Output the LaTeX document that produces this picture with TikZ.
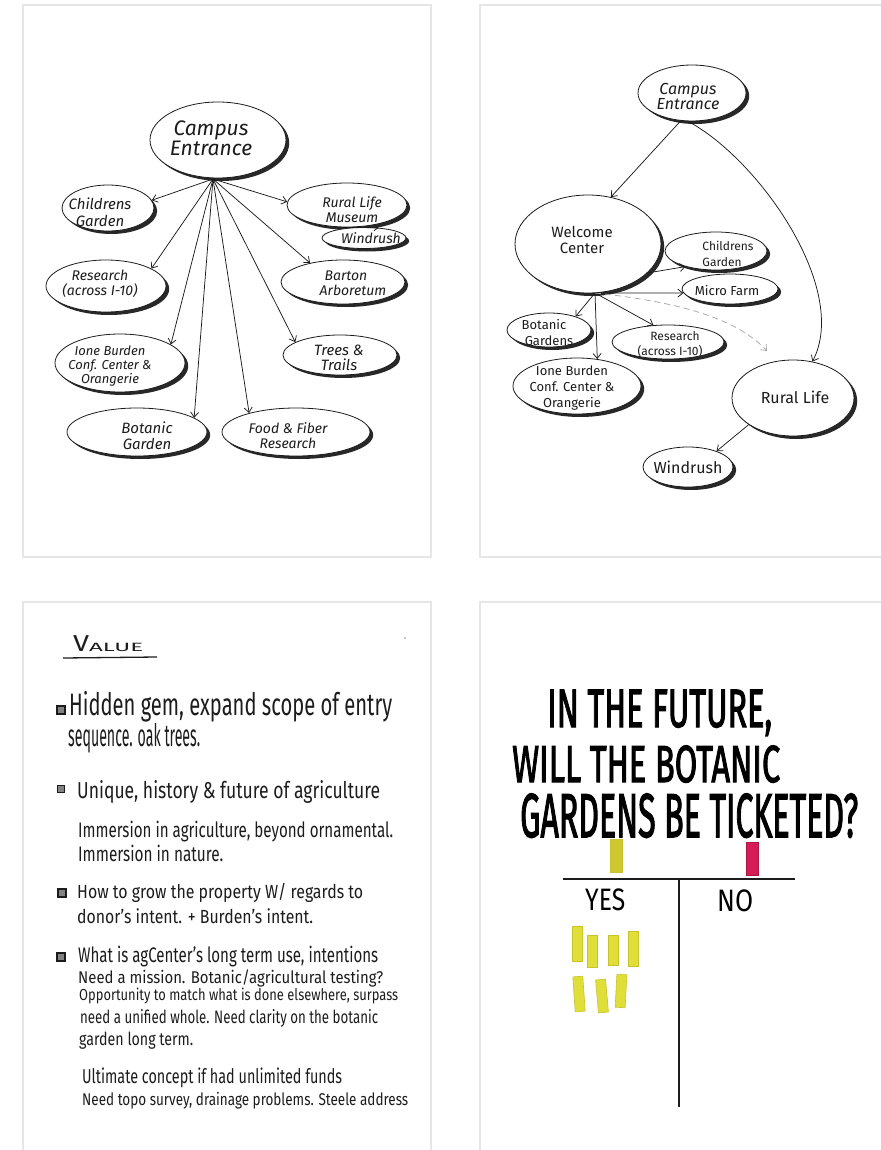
\documentclass[tikz,border=0pt]{standalone}
\usepackage{fontspec}
\setmainfont{Fira Sans}
\newfontfamily\markerfont[FakeBold=2.5]{Fira Sans}
\usepackage{graphicx}
\usetikzlibrary{shapes.geometric,arrows.meta,shadows}
\newcommand\setfs[2]{\fontsize{#1}{#2}\selectfont}
\newcommand\fitw[2]{\resizebox{#1}{\height}{#2}}
\definecolor{frame}{RGB}{230,230,230}
\definecolor{ink}{RGB}{28,28,28}
\definecolor{postit}{RGB}{224,222,56}
\definecolor{postitedge}{RGB}{200,194,44}
\definecolor{postitold}{RGB}{206,200,48}
\definecolor{postitpink}{RGB}{214,28,86}
\tikzset{
  panel/.style={draw=frame, line width=2pt},
  bub/.style={ellipse, draw=ink, line width=0.8pt, fill=white, inner sep=0pt,
    drop shadow={shadow xshift=3.2pt, shadow yshift=-3pt, fill=ink, opacity=0.95}},
  arr/.style={draw=ink, line width=0.75pt, -{Straight Barb[length=5pt,width=8pt]}},
  lab/.style={align=center, inner sep=0pt, text=ink},
  note/.style={anchor=base west, inner sep=0pt, text=ink},
  chk/.style={draw=ink, fill=ink!55, line width=1.3pt, inner sep=0pt},
  poster/.style={anchor=base west, inner sep=0pt, text=black},
  sticky/.style={fill=postit, draw=postitedge, line width=0.6pt, inner sep=0pt, minimum width=10pt},
}
\begin{document}
\begin{tikzpicture}[x=1pt, y=-1pt]
\useasboundingbox (0,0) rectangle (880,1150);

% ---------- four sheets ----------
\draw[panel] (23,5) rectangle (431,557);
\draw[panel] (480,5) rectangle (896,557);
\draw[panel] (23,602) rectangle (431,1162);
\draw[panel] (480,602) rectangle (896,1162);

% ---------- sheet 1: radial site map ----------
\node[bub, minimum width=136pt, minimum height=76pt] (ce) at (218,140) {};
\node[bub, minimum width=92pt, minimum height=46pt] (cg) at (108,208) {};
\node[bub, minimum width=120pt, minimum height=44pt] (rlm) at (347,205) {};
\node[bub, minimum width=84pt, minimum height=21pt] (wr) at (364,238) {};
\node[bub, minimum width=120pt, minimum height=52pt] (rs) at (106,286) {};
\node[bub, minimum width=124pt, minimum height=44pt] (ba) at (343,282) {};
\node[bub, minimum width=130pt, minimum height=58pt] (ib) at (120,363) {};
\node[bub, minimum width=114pt, minimum height=40pt] (tt) at (340,355) {};
\node[bub, minimum width=140pt, minimum height=48pt] (bg) at (137,432) {};
\node[bub, minimum width=148pt, minimum height=48pt] (ff) at (296,432) {};

\node[lab, font={\setfs{21}{20}\itshape}] (ce-t) at (211,138) {Campus\\Entrance};
\node[lab, font={\setfs{15}{17}\itshape}] (cg-t) at (100,212) {Childrens\\Garden};
\node[lab, font={\setfs{14}{15}\itshape}] (rlm-t) at (352,210) {Rural Life\\Museum};
\node[lab, font={\setfs{14}{14}\itshape}] (wr-t) at (371,238) {Windrush};
\node[lab, font={\setfs{14}{15}\itshape}] (rs-t) at (100,284) {Research\\(across I-10)};
\node[lab, font={\setfs{14}{15}\itshape}] (ba-t) at (346,283) {Barton\\\hspace*{14pt}Arboretum};
\node[lab, font={\setfs{13}{14}\itshape}] (ib-t) at (110,366) {Ione Burden\\Conf. Center \&\\Orangerie};
\node[lab, font={\setfs{15}{15}\itshape}] (tt-t) at (339,358) {Trees \&\\Trails};
\node[lab, font={\setfs{15}{16}\itshape}] (bg-t) at (147,436) {Botanic\\Garden};
\node[lab, font={\setfs{14}{15}\itshape}] (ff-t) at (288,436) {Food \& Fiber\\Research};

\coordinate (hub) at (213,179);
\draw[arr] (hub) -- (cg.10);
\draw[arr] (hub) -- (rlm.177);
\draw[arr] (hub) -- (rs.21);
\draw[arr] (hub) -- (ba.150);
\draw[arr] (hub) -- (ib.20);
\draw[arr] (hub) -- (tt.164);
\draw[arr] (hub) -- (bg.14);
\draw[arr] (hub) -- (ff.158);
\draw[arr, -{Straight Barb[length=4pt,width=6pt]}] (rlm.-100) -- (wr.35);

% ---------- sheet 2: welcome-centre flow ----------
\node[bub, minimum width=108pt, minimum height=56pt] (ce2) at (692,93) {};
\node[bub, minimum width=146pt, minimum height=98pt] (wc) at (588,244) {};
\node[bub, minimum width=102pt, minimum height=38pt] (cg2) at (716,251) {};
\node[bub, minimum width=96pt, minimum height=30pt] (mf) at (730,289) {};
\node[bub, minimum width=84pt, minimum height=34pt] (bgd) at (549,330) {};
\node[bub, minimum width=112pt, minimum height=34pt] (rs2) at (668,342) {};
\node[bub, minimum width=128pt, minimum height=56pt] (ib2) at (577,386) {};
\node[bub, minimum width=122pt, minimum height=76pt] (rl) at (793,398) {};
\node[bub, minimum width=90pt, minimum height=40pt] (wd) at (688,467) {};

\node[lab, font={\setfs{16}{15}\itshape}] (ce2-t) at (688,96) {Campus\\Entrance};
\node[lab, font={\setfs{15}{16}}] (wc-t) at (582,240) {Welcome\\Center};
\node[lab, font={\setfs{12}{16}}] (cg2-t) at (722,254) {\hspace*{12pt}Childrens\\Garden};
\node[lab, font={\setfs{13}{13}}] (mf-t) at (727,291) {Micro Farm};
\node[lab, font={\setfs{13}{16}}] (bgd-t) at (544,333) {Botanic\\\hspace*{10pt}Gardens};
\node[lab, font={\setfs{12}{15}}] (rs2-t) at (670,344) {\hspace*{10pt}Research\\(across I-10)};
\node[lab, font={\setfs{13}{16}}] (ib2-t) at (572,388) {Ione Burden\\Conf. Center \&\\Orangerie};
\node[lab, font={\setfs{16}{16}}] (rl-t) at (795,397) {Rural Life};
\node[lab, font={\setfs{16}{16}}] (wd-t) at (688,467) {Windrush};

\coordinate (hub2) at (595,293);
\coordinate (dashend) at (767,351);
\draw[arr] (ce2.-112) -- (wc.64);
\draw[arr] (ce2.-98) .. controls (760,160) and (850,290) .. (rl.62);
\draw[arr] (wc.-26) -- (cg2.207);
\draw[arr] (hub2) -- (mf.185);
\draw[arr] (hub2) -- (bgd.27);
\draw[arr] (hub2) -- (ib2.53);
\draw[arr] (hub2) -- (rs2.131);
\draw[arr, draw=black!35, dash pattern=on 6pt off 4pt] (hub2) .. controls (690,303) and (740,322) .. (dashend);
\draw[arr] (rl.211) -- (wd.29);

% ---------- sheet 3: value notes ----------
\node[note, font={\setfs{23}{23}}] (v1) at (73,651) {\fitw{16pt}{V}};
\node[note, font={\setfs{12}{12}}] (v2) at (89,651) {\fitw{54pt}{ALUE}};
\coordinate (ul-a) at (63,658);
\coordinate (ul-b) at (157,657);
\draw[ink, line width=1.3pt] (ul-a) -- (ul-b);
\fill[black!45] (405,638) circle (0.8pt);

\node[chk, minimum size=8pt] (b1) at (61,710) {};
\node[note, font={\setfs{31}{31}}] (n1) at (69,715) {\fitw{323pt}{Hidden gem, expand scope of entry}};
\node[note, font={\setfs{31}{31}}] (n2) at (68,746) {\fitw{132pt}{sequence. oak trees.}};
\node[chk, minimum size=7pt] (b2) at (61,789) {};
\node[note, font={\setfs{23}{23}}] (n3) at (77,798) {\fitw{303pt}{Unique, history \& future of agriculture}};
\node[note, font={\setfs{21}{21}}] (n4) at (78,837) {\fitw{315pt}{Immersion in agriculture, beyond ornamental.}};
\node[note, font={\setfs{21}{21}}] (n5) at (78,861) {\fitw{145pt}{Immersion in nature.}};
\node[chk, minimum size=8pt] (b3) at (62,893) {};
\node[note, font={\setfs{19}{19}}] (n6) at (77,898) {\fitw{286pt}{How to grow the property W/ regards to}};
\node[note, font={\setfs{19}{19}}] (n7) at (77,923) {\fitw{236pt}{donor's intent. + Burden's intent.}};
\node[chk, minimum size=8pt] (b4) at (61,957) {};
\node[note, font={\setfs{21}{21}}] (n8) at (78,962) {\fitw{300pt}{What is agCenter's long term use, intentions}};
\node[note, font={\setfs{17}{17}}] (n9) at (78,983) {\fitw{305pt}{Need a mission. Botanic/agricultural testing?}};
\node[note, font={\setfs{16}{16}}] (n10) at (79,1000) {\fitw{319pt}{Opportunity to match what is done elsewhere, surpass}};
\node[note, font={\setfs{18}{18}}] (n11) at (80,1023) {\fitw{298pt}{need a unified whole. Need clarity on the botanic}};
\node[note, font={\setfs{18}{18}}] (n12) at (79,1045) {\fitw{114pt}{garden long term.}};
\node[note, font={\setfs{20}{20}}] (n13) at (82,1083) {\fitw{260pt}{Ultimate concept if had unlimited funds}};
\node[note, font={\setfs{17}{17}}] (n14) at (82,1105) {\fitw{326pt}{Need topo survey, drainage problems. Steele address}};

% ---------- sheet 4: dot-vote poster ----------
\node[poster, font={\markerfont\setfs{54}{54}}] (q1) at (547,727) {\fitw{225pt}{IN THE FUTURE,}};
\node[poster, font={\markerfont\setfs{52}{52}}] (q2) at (512,782) {\fitw{268pt}{WILL THE BOTANIC}};
\node[poster, font={\markerfont\setfs{62}{62}}] (q3) at (520,837) {\fitw{338pt}{GARDENS BE TICKETED?}};

\node[sticky, fill=postitold, minimum width=12pt, minimum height=33pt] (key-yes) at (616,856) {};
\node[sticky, fill=postitpink, draw=postitpink!80!black, minimum width=12pt, minimum height=33pt] (key-no) at (752,859) {};

\coordinate (t-left) at (563,879);
\coordinate (t-right) at (795,879);
\coordinate (t-top) at (679,879);
\coordinate (t-bot) at (679,1107);
\draw[ink, line width=1.2pt] (t-left) -- (t-right);
\draw[ink, line width=1.2pt] (t-top) -- (t-bot);

\node[poster, font={\setfs{31}{31}}] (yes) at (585,910) {\fitw{40pt}{YES}};
\node[poster, font={\setfs{31}{31}}] (no) at (717,911) {\fitw{36pt}{NO}};

\node[sticky, minimum height=35pt] (d1) at (577,944) {};
\node[sticky, minimum height=32pt] (d2) at (592,951) {};
\node[sticky, minimum height=30pt] (d3) at (613,950) {};
\node[sticky, minimum height=35pt] (d4) at (633,949) {};
\node[sticky, minimum height=35pt, rotate=4] (d5) at (579,994) {};
\node[sticky, minimum height=33pt, rotate=5] (d6) at (602,996) {};
\node[sticky, minimum height=33pt, rotate=-3] (d7) at (621,991) {};
\end{tikzpicture}
\end{document}
